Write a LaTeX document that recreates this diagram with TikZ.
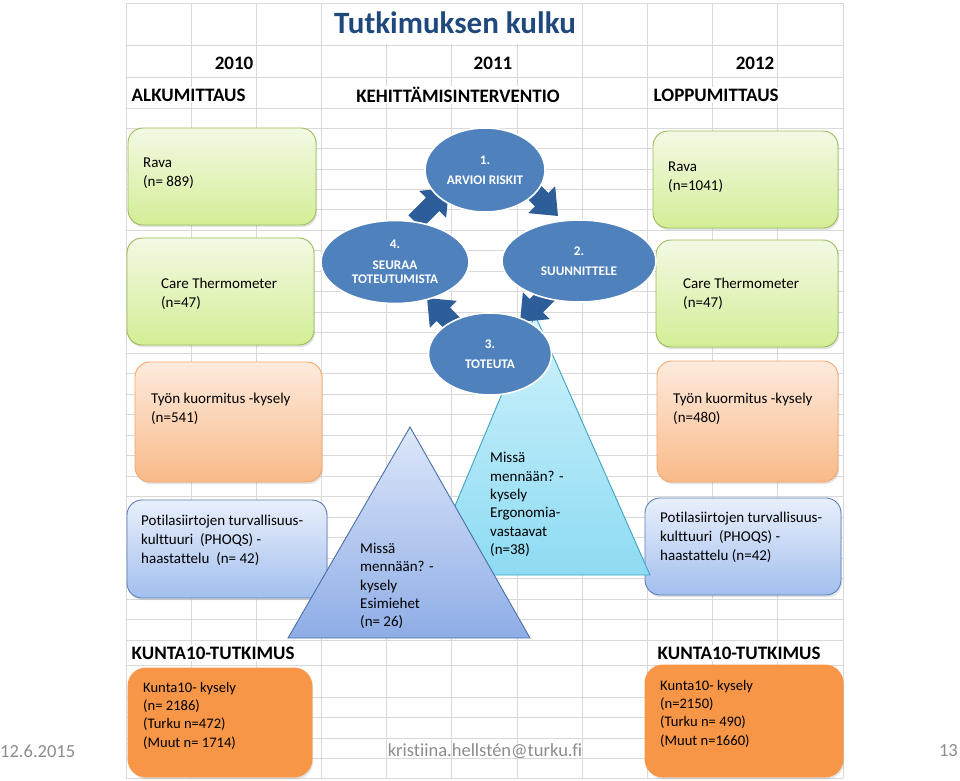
\documentclass[tikz,border=0pt]{standalone}
\usepackage{fontspec}
\setmainfont[Ligatures={NoCommon}]{Carlito}
\usetikzlibrary{shapes.geometric,shadows,calc}
\definecolor{gridc}{HTML}{D9D9D9}
\definecolor{titleblue}{HTML}{1F497D}
\definecolor{ellblue}{HTML}{4F81BD}
\definecolor{arrblue}{HTML}{2E5E9A}
\definecolor{greenT}{HTML}{F3F9E4}
\definecolor{greenB}{HTML}{D3EE96}
\definecolor{greenD}{HTML}{9BBB59}
\definecolor{orT}{HTML}{FDEBDD}
\definecolor{orB}{HTML}{F9BA88}
\definecolor{orD}{HTML}{F5A66A}
\definecolor{blT}{HTML}{E9EFFB}
\definecolor{blB}{HTML}{A2BFEE}
\definecolor{blD}{HTML}{5A7FB8}
\definecolor{trT}{HTML}{DDE7F9}
\definecolor{trB}{HTML}{8EADE6}
\definecolor{trD}{HTML}{4A6FA8}
\definecolor{cyT}{HTML}{D0F2FB}
\definecolor{cyB}{HTML}{8DDBF3}
\definecolor{cyD}{HTML}{3FA3BF}
\definecolor{kunta}{HTML}{F79646}
\definecolor{foot}{HTML}{8C8C8C}
\begin{document}
\begin{tikzpicture}[x=1pt,y=-1pt,
  gridline/.style={draw=gridc,line width=0.9pt},
  softshadow/.style={drop shadow={opacity=0.22,shadow xshift=1.2pt,shadow yshift=-2.2pt}},
  boxbase/.style={rectangle,rounded corners=15pt,line width=0.9pt,inner sep=0pt,softshadow},
  greenbox/.style={boxbase,draw=greenD,top color=greenT,bottom color=greenB},
  orangebox/.style={boxbase,draw=orD,top color=orT,bottom color=orB},
  bluebox/.style={boxbase,draw=blD,top color=blT,bottom color=blB},
  kuntabox/.style={boxbase,rounded corners=18pt,fill=kunta,draw=kunta},
  boxtext/.style={anchor=west,align=left,inner sep=0pt,font=\fontsize{15}{19}\selectfont,text=black},
  kuntatext/.style={anchor=west,align=left,inner sep=0pt,font=\fontsize{14.6}{18.3}\selectfont,text=black},
  tritext/.style={anchor=west,align=left,inner sep=0pt,font=\fontsize{15}{18.4}\selectfont,text=black},
  head/.style={inner sep=1.5pt,fill=white,font=\fontsize{19}{22}\selectfont\bfseries,text=black},
  foottext/.style={inner sep=0pt,font=\fontsize{18.5}{22}\selectfont,text=foot},
  cyc/.style={ellipse,fill=ellblue,draw=white,line width=1.6pt,inner sep=0pt,align=center,
    text=white,font=\fontsize{13.2}{14}\selectfont\bfseries},
  blockarr/.pic={\fill[arrblue] (-24,-9.5) -- (1,-9.5) -- (1,-19) -- (24,0) -- (1,19) -- (1,9.5) -- (-24,9.5) -- cycle;}
]
\useasboundingbox (0,0) rectangle (960,780);
\fill[white] (0,0) rectangle (960,780);
% spreadsheet grid
\foreach \i in {0,...,11} \draw[gridline] ({126+65.18*\i},3) -- ({126+65.18*\i},778);
\foreach \yy in {3,45,77,108,128,665,697,717,738,758,778} \draw[gridline] (126,\yy) -- (843,\yy);
\foreach \k in {1,...,25} \draw[gridline] (126,{128+20.48*\k}) -- (843,{128+20.48*\k});
\fill[white] (323.5,4) rectangle (581.5,44);

% headers
\node[inner sep=0pt,font=\fontsize{31}{34}\selectfont\bfseries,text=titleblue] (title) at (455,23) {Tutkimuksen kulku};
\node[head,anchor=east] (y2010) at (255,63) {2010};
\node[head] (y2011) at (493,63) {2011};
\node[head,anchor=east] (y2012) at (776,63) {2012};
\node[head,anchor=west] (alku) at (130,95) {ALKUMITTAUS};
\node[head] (kehi) at (458,95) {KEHITTÄMISINTERVENTIO};
\node[head,anchor=west] (loppu) at (652,95) {LOPPUMITTAUS};
\node[head,anchor=west] (kt1) at (130,653) {KUNTA10-TUTKIMUS};
\node[head,anchor=west] (kt2) at (656,653) {KUNTA10-TUTKIMUS};

% left boxes
\node[greenbox,minimum width=188pt,minimum height=97pt] (rava1) at (222,176.5) {};
\node[boxtext] (rava1t) at (143,173) {Rava\\(n= 889)};
\node[greenbox,minimum width=187pt,minimum height=107pt] (care1) at (220.5,291.5) {};
\node[boxtext] (care1t) at (161,294) {Care Thermometer\\(n=47)};
\node[orangebox,minimum width=187pt,minimum height=120pt] (tyo1) at (228.5,422) {};
\node[boxtext] (tyo1t) at (151,409) {Työn kuormitus -kysely\\(n=541)};
\node[bluebox,minimum width=200pt,minimum height=98pt] (pot1) at (227,549) {};
\node[boxtext] (pot1t) at (141,540) {Potilasiirtojen turvallisuus-\\kulttuuri~ (PHOQS) -\\haastattelu~ (n= 42)};
\node[kuntabox,minimum width=184pt,minimum height=109pt] (kun1) at (220,722.5) {};
\node[kuntatext] (kun1t) at (143,715.5) {Kunta10- kysely\\(n= 2186)\\(Turku n=472)\\(Muut n= 1714)};

% right boxes
\node[greenbox,minimum width=185pt,minimum height=97pt] (rava2) at (745.5,179.5) {};
\node[boxtext] (rava2t) at (668,177) {Rava\\(n=1041)};
\node[greenbox,minimum width=182pt,minimum height=107pt] (care2) at (747,293.5) {};
\node[boxtext] (care2t) at (683,294) {Care Thermometer\\(n=47)};
\node[orangebox,minimum width=181pt,minimum height=121pt] (tyo2) at (747.5,421.5) {};
\node[boxtext] (tyo2t) at (673,409) {Työn kuormitus -kysely\\(n=480)};
\node[bluebox,minimum width=196pt,minimum height=97pt] (pot2) at (743,546.5) {};
\node[boxtext] (pot2t) at (660,537) {Potilasiirtojen turvallisuus-\\kulttuuri~ (PHOQS) -\\haastattelu (n=42)};
\node[kuntabox,minimum width=198pt,minimum height=112pt] (kun2) at (744,721) {};
\node[kuntatext] (kun2t) at (660,713.5) {Kunta10- kysely\\(n=2150)\\(Turku n= 490)\\(Muut n=1660)};

% triangles
\path[draw=cyD,line width=0.9pt,top color=cyT,bottom color=cyB] (535,315) -- (650,575) -- (426,575) -- cycle;
\path[draw=trD,line width=0.9pt,top color=trT,bottom color=trB] (410,427) -- (530,638) -- (288,638) -- cycle;
\node[tritext] (tri1t) at (360,586) {Missä\\mennään? -\\kysely\\Esimiehet\\(n= 26)};
\node[tritext] (tri2t) at (490,504.5) {Missä\\mennään? -\\kysely\\Ergonomia-\\vastaavat\\(n=38)};

% cycle arrows
\coordinate (a41) at (432,205);
\coordinate (a12) at (541,199);
\coordinate (a23) at (537,305);
\coordinate (a34) at (444,315);
\path (a41) pic[rotate=45] {blockarr};
\path (a12) pic[rotate=-45] {blockarr};
\path (a23) pic[rotate=-135] {blockarr};
\path (a34) pic[rotate=135] {blockarr};

% cycle ellipses
\node[cyc,minimum width=120pt,minimum height=84pt] (e1) at (485,170) {1.\\[6pt]ARVIOI RISKIT};
\node[cyc,minimum width=154pt,minimum height=82pt] (e2) at (579,261) {2.\\[6pt]SUUNNITTELE};
\node[cyc,minimum width=148pt,minimum height=83pt] (e4) at (395,262) {4.\\[7pt]SEURAA\\TOTEUTUMISTA};
\node[cyc,minimum width=123pt,minimum height=82pt] (e3) at (490,354) {3.\\[6pt]TOTEUTA};

% footer
\node[foottext,anchor=west] (date) at (0,751) {12.6.2015};
\node[foottext] (mail) at (485,751) {kristiina.hellstén@turku.fi};
\node[foottext,anchor=east] (pnum) at (958,751) {13};
\end{tikzpicture}
\end{document}
